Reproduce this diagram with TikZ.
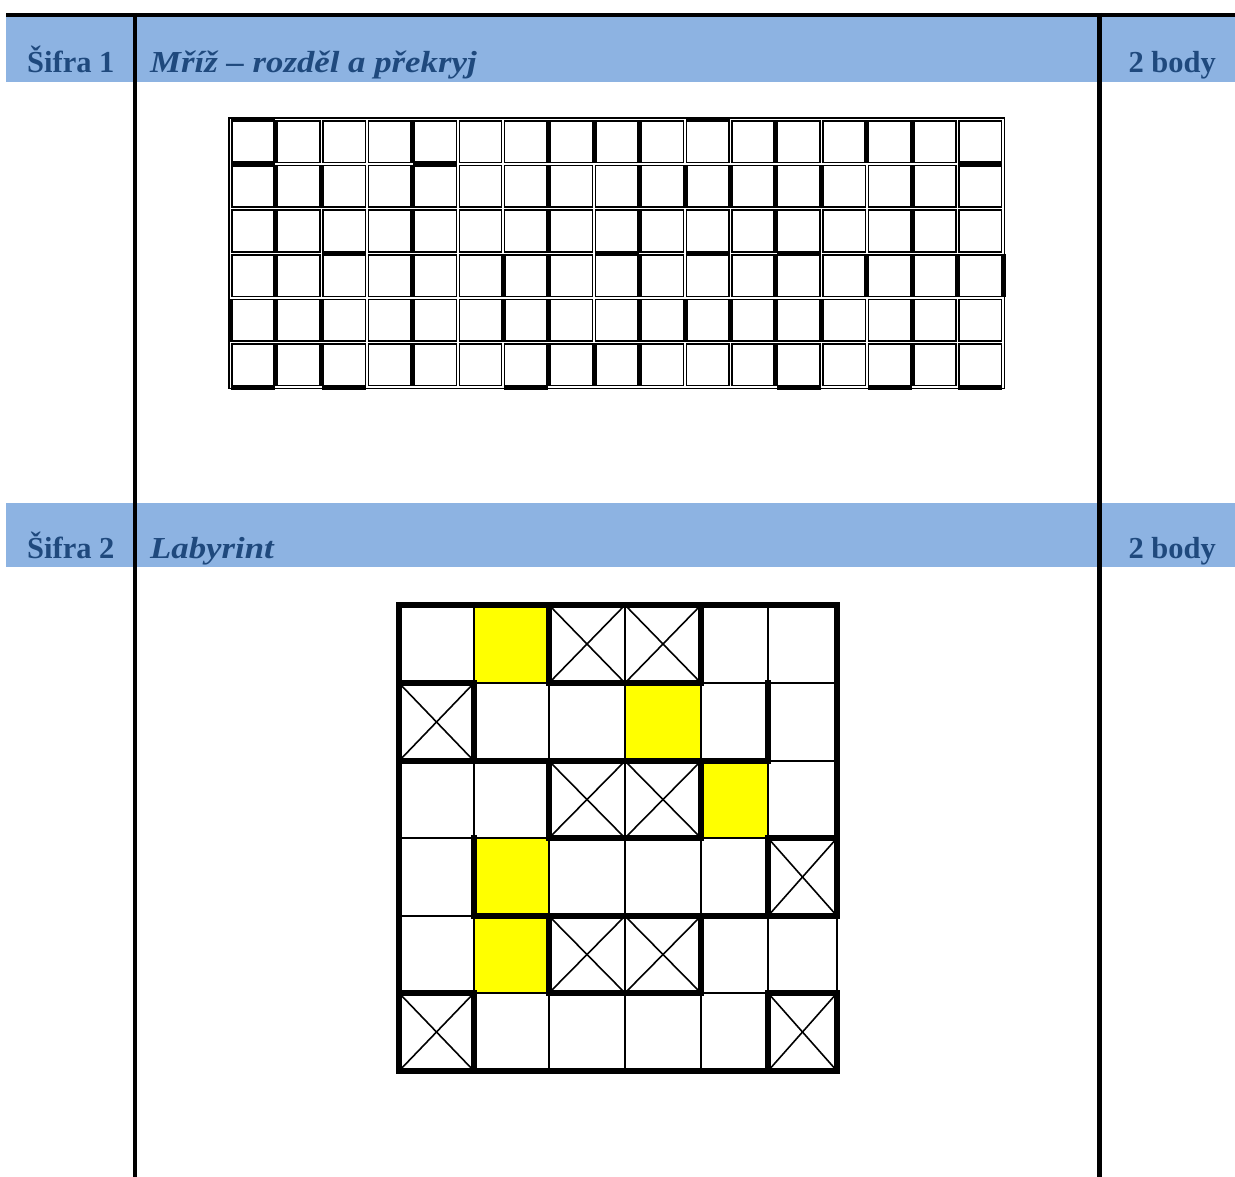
\documentclass[tikz,border=0pt]{standalone}
\usepackage{fontspec}
\setmainfont{Liberation Serif}
\definecolor{hdrfill}{RGB}{141,179,226}
\definecolor{hdrtxt}{RGB}{31,73,125}
\definecolor{mazeyellow}{RGB}{255,255,0}
\begin{document}
\begin{tikzpicture}[x=1pt,y=-1pt,
  hdrband/.style={fill=hdrfill,draw=none},
  rule/.style={line width=4.6pt,black},
  hdrlabel/.style={inner sep=0pt,text=hdrtxt,font=\fontsize{30.5}{36}\selectfont\bfseries},
  hdrtitle/.style={inner sep=0pt,text=hdrtxt,xscale=1.14,font=\fontsize{30.5}{36}\selectfont\bfseries\itshape},
  cellline/.style={line width=1.5pt,black},
  thickbar/.style={fill=black},
  mazethin/.style={line width=1.7pt,black},
  mazethick/.style={line width=5.2pt,black,line cap=rect,line join=miter},
  diag/.style={line width=1.6pt,black}
]
\useasboundingbox (0,0) rectangle (1235,1177);
\fill[white] (0,0) rectangle (1235,1177);

% header bands
\fill[hdrband] (6,17) rectangle (1235,82);
\fill[hdrband] (6,503) rectangle (1235,567);

% rules
\coordinate (tl) at (6,15);
\coordinate (tr) at (1235,15);
\coordinate (vl0) at (135,13);
\coordinate (vl1) at (135,1177);
\coordinate (vr0) at (1099,13);
\coordinate (vr1) at (1099,1177);
\draw[rule] (tl) -- (tr);
\draw[rule] (vl0) -- (vl1);
\draw[rule,line width=5pt] (vr0) -- (vr1);

% header texts
\node[hdrlabel,anchor=base west] (s1) at (27,73) {Šifra 1};
\node[hdrtitle,anchor=base west] (t1) at (150,73) {Mříž – rozděl a překryj};
\node[hdrlabel,anchor=base east] (b1) at (1216,73) {2 body};
\node[hdrlabel,anchor=base west] (s2) at (27,558) {Šifra 2};
\node[hdrtitle,anchor=base west] (t2) at (150,558) {Labyrint};
\node[hdrlabel,anchor=base east] (b2) at (1216,558) {2 body};

% ---------- grid 1 ----------
\def\gxo{230.5}\def\gdx{45.45}
\def\gyo{119.5}\def\gdy{44.6}
\def\gin{1.5}
\draw[cellline] ({\gxo-\gin},{\gyo-\gin}) rectangle ({\gxo+17*\gdx+\gin},{\gyo+6*\gdy+\gin});
\foreach \i in {0,...,5}{
  \foreach \j in {0,...,16}{
    \draw[cellline] ({\gxo+\gdx*\j+\gin},{\gyo+\gdy*\i+\gin}) rectangle ({\gxo+\gdx*(\j+1)-\gin},{\gyo+\gdy*(\i+1)-\gin});
  }
}
% thick vertical pieces
\foreach \r/\lst in {0/{1,4,7,8,9,12,14,15},
                     1/{1,2,4,7,9,10,11,12,13,15},
                     2/{1,4,7,9,12,15},
                     3/{1,4,6,7,9,12,14,15,16,17},
                     4/{0,1,2,4,6,7,9,10,11,12,13,15},
                     5/{1,2,4,7,8,9,12,15}}{
  \foreach \j in \lst {
    \fill[thickbar] ({\gxo+\gdx*\j-2.5},{\gyo+\gdy*\r+0.7}) rectangle ({\gxo+\gdx*\j+2.5},{\gyo+\gdy*(\r+1)-0.7});
  }
}
% thick horizontal pieces
\foreach \r/\lst in {0/{0,10}, 1/{0,4,16}, 3/{2,8,10,12}, 6/{0,2,6,12,14,16}}{
  \foreach \j in \lst {
    \fill[thickbar] ({\gxo+\gdx*\j+0.7},{\gyo+\gdy*\r-2.6}) rectangle ({\gxo+\gdx*(\j+1)-0.7},{\gyo+\gdy*\r+2.6});
  }
}

% ---------- labyrinth ----------
\foreach \j/\xv in {0/399,1/474,2/549,3/625,4/701,5/768,6/837}{
  \foreach \i/\yv in {0/605,1/683,2/761,3/838,4/916,5/993,6/1071}{
    \coordinate (p\i-\j) at (\xv,\yv);
  }
}
% yellow cells
\fill[mazeyellow] (p0-1) rectangle (p1-2);
\fill[mazeyellow] (p1-3) rectangle (p2-4);
\fill[mazeyellow] (p2-4) rectangle (p3-5);
\fill[mazeyellow] (p3-1) rectangle (p4-2);
\fill[mazeyellow] (p4-1) rectangle (p5-2);
% thin grid
\foreach \k in {0,...,6}{
  \draw[mazethin] (p\k-0) -- (p\k-6);
  \draw[mazethin] (p0-\k) -- (p6-\k);
}
% crossed cells
\foreach \i/\j in {0/2,0/3,1/0,2/2,2/3,3/5,4/2,4/3,5/0,5/5}{
  \pgfmathtruncatemacro\ii{\i+1}
  \pgfmathtruncatemacro\jj{\j+1}
  \draw[diag] (p\i-\j) -- (p\ii-\jj);
  \draw[diag] (p\ii-\j) -- (p\i-\jj);
}
% thick walls
\draw[mazethick] (p4-6) -- (p0-6) -- (p0-0) -- (p6-0) -- (p6-6) -- (p5-6);
\draw[mazethick] (p1-0) -- (p1-1);
\draw[mazethick] (p1-2) -- (p1-4);
\draw[mazethick] (p2-0) -- (p2-5);
\draw[mazethick] (p3-2) -- (p3-4);
\draw[mazethick] (p3-5) -- (p3-6);
\draw[mazethick] (p4-1) -- (p4-6);
\draw[mazethick] (p5-0) -- (p5-1);
\draw[mazethick] (p5-2) -- (p5-4);
\draw[mazethick] (p5-5) -- (p5-6);
\draw[mazethick] (p1-1) -- (p2-1);
\draw[mazethick] (p3-1) -- (p4-1);
\draw[mazethick] (p5-1) -- (p6-1);
\draw[mazethick] (p0-2) -- (p1-2);
\draw[mazethick] (p2-2) -- (p3-2);
\draw[mazethick] (p4-2) -- (p5-2);
\draw[mazethick] (p0-4) -- (p1-4);
\draw[mazethick] (p2-4) -- (p3-4);
\draw[mazethick] (p4-4) -- (p5-4);
\draw[mazethick] (p1-5) -- (p2-5);
\draw[mazethick] (p3-5) -- (p4-5);
\draw[mazethick] (p5-5) -- (p6-5);
\end{tikzpicture}
\end{document}
